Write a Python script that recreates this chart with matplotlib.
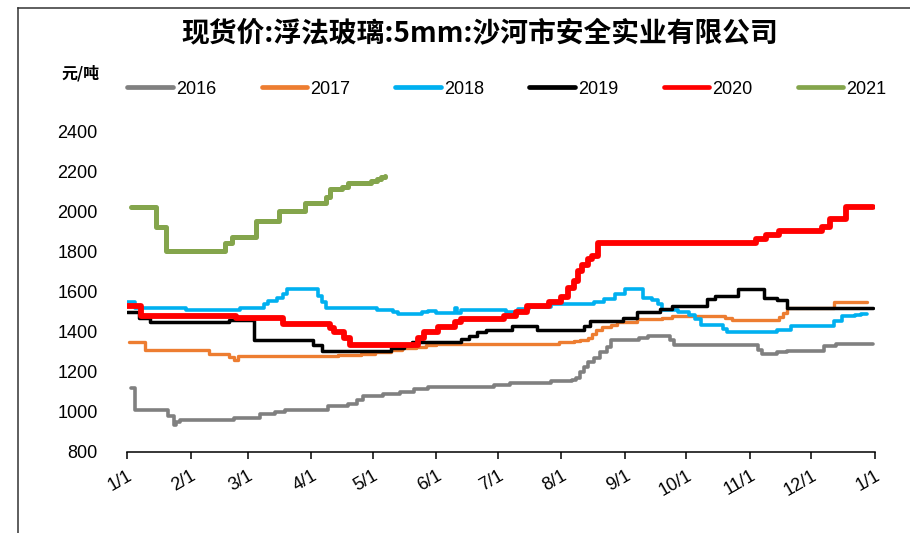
import matplotlib
matplotlib.use("Agg")
import matplotlib.pyplot as plt
import pandas as pd
from matplotlib.lines import Line2D

plt.rcParams["font.family"] = ["Liberation Sans", "Noto Sans CJK SC", "DejaVu Sans"]

TITLE = "现货价:浮法玻璃:5mm:沙河市安全实业有限公司"
UNIT = "元/吨"

years = ["2016", "2017", "2018", "2019", "2020", "2021"]
colors = ["#808080", "#ED7D31", "#00B0F0", "#000000", "#FF0000", "#84A54C"]
widths = [2.6, 2.4, 2.6, 2.5, 4.2, 3.6]

# price change dates (MM-DD) and the new price from that day on; last entry = end of series
dates16 = ["01-03", "01-05", "01-21", "01-24", "01-25", "01-27", "02-22", "03-07", "03-14", "03-19",
           "04-09", "04-19", "04-23", "04-26", "05-06", "05-14", "05-21", "05-28", "06-29", "07-07",
           "07-27", "08-06", "08-08", "08-10", "08-12", "08-14", "08-17", "08-20", "08-23", "08-25",
           "09-08", "09-12", "09-23", "09-25", "11-05", "11-07", "11-14", "11-19", "12-07", "12-13", "12-31"]
vals16 = [1120, 1010, 980, 935, 950, 960, 970, 990, 1000, 1010,
          1030, 1040, 1060, 1078, 1090, 1100, 1112, 1125, 1133, 1142,
          1152, 1160, 1170, 1200, 1225, 1250, 1270, 1300, 1325, 1360,
          1370, 1380, 1358, 1333, 1310, 1290, 1297, 1305, 1330, 1338, 1338]

dates17 = ["01-02", "01-10", "02-10", "02-20", "02-22", "02-24", "04-14", "04-25", "05-02", "05-10",
           "05-15", "05-22", "05-27", "06-01", "07-31", "08-07", "08-10", "08-14", "08-16", "08-18",
           "08-21", "08-25", "08-28", "09-07", "09-19", "09-24", "10-20", "10-23", "11-15", "11-17",
           "11-19", "12-12", "12-28"]
vals17 = [1350, 1310, 1290, 1275, 1260, 1280, 1285, 1290, 1300, 1310,
          1318, 1325, 1333, 1340, 1350, 1355, 1360, 1370, 1390, 1410,
          1425, 1433, 1448, 1462, 1470, 1480, 1470, 1460, 1475, 1495,
          1520, 1550, 1550]

dates18 = ["01-01", "01-05", "01-30", "02-25", "03-09", "03-11", "03-15", "03-18", "03-20", "04-04",
           "04-06", "04-08", "05-03", "05-11", "05-13", "05-25", "05-28", "06-01", "06-10", "06-11",
           "06-13", "07-05", "07-11", "07-16", "07-27", "08-17", "08-22", "08-27", "09-01", "09-10",
           "09-14", "09-17", "09-19", "09-27", "10-02", "10-05", "10-08", "10-19", "10-21", "11-14",
           "11-21", "12-12", "12-16", "12-22", "12-25", "12-28"]
vals18 = [1550, 1520, 1510, 1520, 1540, 1555, 1570, 1590, 1610, 1580,
          1550, 1520, 1510, 1500, 1490, 1500, 1505, 1495, 1520, 1495,
          1510, 1500, 1515, 1525, 1540, 1550, 1565, 1590, 1610, 1570,
          1560, 1540, 1510, 1500, 1485, 1465, 1435, 1415, 1400, 1410,
          1430, 1455, 1478, 1485, 1490, 1490]

dates19 = ["01-01", "01-07", "01-12", "02-20", "03-04", "04-02", "04-06", "05-10", "05-16", "05-20",
           "06-13", "06-17", "06-21", "06-25", "07-08", "07-20", "08-12", "08-15", "08-31", "09-07",
           "09-18", "09-24", "10-11", "10-15", "10-26", "11-08", "11-14", "11-19", "12-31"]
vals19 = [1500, 1470, 1450, 1460, 1360, 1335, 1305, 1320, 1335, 1350,
          1365, 1380, 1400, 1410, 1430, 1410, 1430, 1455, 1470, 1500,
          1515, 1530, 1565, 1580, 1610, 1570, 1560, 1520, 1520]

dates20 = ["01-01", "01-08", "02-23", "03-18", "04-10", "04-12", "04-17", "04-20", "05-23", "05-26",
           "06-02", "06-10", "06-13", "07-04", "07-10", "07-15", "07-26", "08-01", "08-04", "08-07",
           "08-09", "08-11", "08-14", "08-16", "08-19", "11-04", "11-09", "11-15", "12-06", "12-10",
           "12-18", "12-31"]
vals20 = [1530, 1480, 1470, 1440, 1420, 1400, 1370, 1335, 1370, 1400,
          1425, 1450, 1465, 1480, 1500, 1530, 1550, 1575, 1615, 1650,
          1700, 1730, 1760, 1775, 1840, 1860, 1880, 1900, 1920, 1960,
          2020, 2020]

dates21 = ["01-03", "01-15", "01-20", "02-18", "02-21", "03-05", "03-16", "03-29", "04-08", "04-10",
           "04-16", "04-19", "04-30", "05-03", "05-05", "05-07"]
vals21 = [2020, 1920, 1800, 1840, 1870, 1950, 2000, 2040, 2070, 2110,
          2120, 2140, 2150, 2160, 2170, 2175]

series = [(dates16, vals16), (dates17, vals17), (dates18, vals18),
          (dates19, vals19), (dates20, vals20), (dates21, vals21)]

Y0 = pd.Timestamp("2001-01-01")


def to_day(dates):
    return [(pd.Timestamp("2001-" + d) - Y0).days for d in dates]


months = pd.date_range("2001-01-01", "2002-01-01", freq="MS")
tick_pos = [(m - Y0).days for m in months]
tick_lab = [f"{m.month}/1" for m in months]

fig = plt.figure(figsize=(9.10, 5.33), dpi=100)
ax = fig.add_axes([127 / 910, 1 - 452 / 533, (875 - 127) / 910, (452 - 131) / 533])

for yr, (d, v), c, w in zip(years, series, colors, widths):
    ax.plot(to_day(d), v, drawstyle="steps-post", color=c, lw=w, label=yr,
            solid_capstyle="round", solid_joinstyle="round")

ax.set_xlim(0, 365)
ax.set_ylim(800, 2400)
ax.set_yticks(range(800, 2401, 200))
ax.set_xticks(tick_pos)
ax.set_xticklabels(tick_lab, rotation=30, ha="right", va="top", rotation_mode="anchor")
ax.tick_params(axis="y", length=0, pad=21, labelsize=13)
ax.tick_params(axis="x", length=5, width=1.1, direction="out", pad=6, labelsize=13)
for s in ["top", "right", "left"]:
    ax.spines[s].set_visible(False)
ax.spines["bottom"].set_linewidth(1.1)

fig.text(0.527, 1 - 33 / 533, TITLE, ha="center", va="center", fontsize=20, fontweight="bold",
         family=["Noto Sans CJK SC", "DejaVu Sans"])
fig.text(81 / 910, 1 - 73 / 533, UNIT, ha="center", va="center", fontsize=11.5, fontweight="bold",
         family=["Noto Sans CJK SC", "DejaVu Sans"])

h, l = ax.get_legend_handles_labels()
leg = fig.legend(h, l, loc="center", bbox_to_anchor=(507 / 910, 1 - 89 / 533), ncol=6, frameon=False,
                 fontsize=13, handlelength=2.5, handletextpad=0.2, columnspacing=2.5)
for ln in leg.get_lines():
    ln.set_linewidth(3.4)

# outer frame (left and top edges)
fig.add_artist(Line2D([18 / 910, 18 / 910], [0, 1 - 8 / 533], color="#333333", lw=1.1))
fig.add_artist(Line2D([18 / 910, 1], [1 - 8 / 533, 1 - 8 / 533], color="#333333", lw=1.1))

fig.savefig("out.png", dpi=100)
